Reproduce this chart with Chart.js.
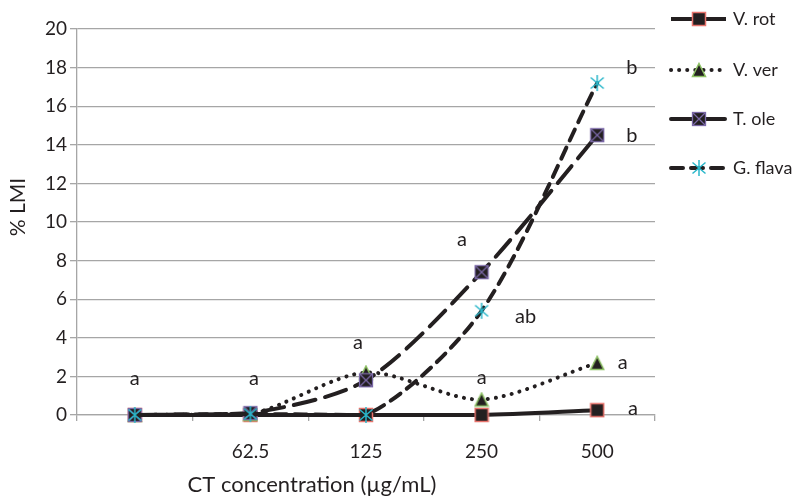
<!DOCTYPE html>
<html>
<head>
<meta charset="utf-8">
<script src="https://cdn.jsdelivr.net/npm/chart.js@4.4.1/dist/chart.umd.min.js"></script>
<style>
  html, body { margin: 0; padding: 0; background: #fff; }
</style>
</head>
<body>
<canvas id="chart" width="798" height="496"></canvas>
<script>
// values
const categories = ['', '62.5', '125', '250', '500'];
const vRot   = [0, 0,    0,   0,   0.25];
const vVer   = [0, 0.05, 2.2, 0.8, 2.7];
const tOle   = [0, 0.1,  1.8, 7.4, 14.5];
const gFlava = [0, 0.05, 0,   5.4, 17.2];
const seriesNames = ['V. rot', 'V. ver', 'T. ole', 'G. flava'];

// significance letters (category index, value)
const letterText = ['a', 'a', 'a', 'a', 'a', 'ab', 'b', 'b', 'a', 'a'];
const letterCat  = [0, 1.03, 1.93, 3, 2.83, 3.38, 4.3, 4.3, 4.22, 4.31];
const letterVal  = [1.9, 1.9, 3.75, 1.95, 9.1, 5.1, 18, 14.5, 2.7, 0.35];

const ink = '#231f20';
const font = 'Lato, "Open Sans", sans-serif';

function marker(size, draw) {
  const c = document.createElement('canvas');
  c.width = c.height = size;
  draw(c.getContext('2d'), size);
  return c;
}
const rotMark = marker(16, (g) => {
  g.fillStyle = ink; g.fillRect(1.5, 1.5, 13, 13);
  g.strokeStyle = '#e8736c'; g.lineWidth = 1.5; g.strokeRect(1.5, 1.5, 13, 13);
});
const verMark = marker(16, (g) => {
  g.beginPath(); g.moveTo(8, 1.5); g.lineTo(14.5, 14.5); g.lineTo(1.5, 14.5); g.closePath();
  g.fillStyle = ink; g.fill();
  g.strokeStyle = '#8cc063'; g.lineWidth = 1.5; g.stroke();
});
const oleMark = marker(16, (g) => {
  g.fillStyle = ink; g.fillRect(1.5, 1.5, 13, 13);
  g.strokeStyle = '#7a68a6'; g.lineWidth = 1.3; g.strokeRect(1.5, 1.5, 13, 13);
  g.beginPath(); g.moveTo(2, 2); g.lineTo(14, 14); g.moveTo(14, 2); g.lineTo(2, 14); g.stroke();
});
const flavaMark = marker(18, (g) => {
  g.strokeStyle = '#2ab7ca'; g.lineWidth = 1.5;
  g.beginPath();
  g.moveTo(9, 1); g.lineTo(9, 17);
  g.moveTo(2.5, 3.5); g.lineTo(15.5, 14.5);
  g.moveTo(15.5, 3.5); g.lineTo(2.5, 14.5);
  g.stroke();
});

const marks = [rotMark, verMark, oleMark, flavaMark];
const dashes = [[], [0.1, 8], [22, 10], [12, 8]];

function series(label, data, i) {
  return {
    label: label,
    data: data,
    borderColor: ink,
    borderWidth: 4,
    borderDash: dashes[i],
    borderCapStyle: i === 0 ? 'butt' : 'round',
    tension: 0.28,
    pointStyle: marks[i],
    pointRadius: 8,
    clip: 10,
    order: 4 - i
  };
}

const extras = {
  id: 'extras',
  afterDraw(chart) {
    const g = chart.ctx;
    const xs = chart.scales.x, ys = chart.scales.y;
    g.save();
    g.fillStyle = ink;
    g.font = '20px ' + font;
    g.textAlign = 'center';
    g.textBaseline = 'middle';
    for (let i = 0; i < letterText.length; i++) {
      g.fillText(letterText[i], xs.getPixelForValue(letterCat[i]), ys.getPixelForValue(letterVal[i]));
    }
    // axis titles
    g.font = '22px ' + font;
    g.fillText('CT concentration (\u00b5g/mL)', 312, 485);
    g.font = '21px ' + font;
    g.save();
    g.translate(18, 207);
    g.rotate(-Math.PI / 2);
    g.fillText('% LMI', 0, 0);
    g.restore();
    // legend
    g.font = '18px ' + font;
    const ly = [19, 70, 119, 168];
    for (let i = 0; i < 4; i++) {
      g.save();
      g.strokeStyle = ink;
      g.lineWidth = 4;
      g.lineCap = i === 0 ? 'butt' : 'round';
      g.setLineDash(dashes[i]);
      g.beginPath(); g.moveTo(671, ly[i]); g.lineTo(726, ly[i]); g.stroke();
      g.restore();
      const m = marks[i];
      g.drawImage(m, 699 - m.width / 2, ly[i] - m.height / 2);
      g.textAlign = 'left';
      g.fillText(seriesNames[i], 733, ly[i]);
    }
    g.restore();
  }
};

new Chart(document.getElementById('chart'), {
  type: 'line',
  data: {
    labels: categories,
    datasets: [
      series(seriesNames[0], vRot, 0),
      series(seriesNames[1], vVer, 1),
      series(seriesNames[2], tOle, 2),
      series(seriesNames[3], gFlava, 3)
    ]
  },
  options: {
    responsive: false,
    animation: false,
    layout: { padding: { left: 0, right: 143, top: 29, bottom: 0 } },
    plugins: { legend: { display: false }, tooltip: { enabled: false } },
    scales: {
      x: {
        offset: true,
        grid: { offset: true, drawOnChartArea: false, color: '#a6a6a6', tickLength: 6, lineWidth: 1.3 },
        border: { color: '#a6a6a6', width: 1.3 },
        ticks: { color: ink, font: { family: font, size: 19 }, padding: 19 },
        afterFit: (s) => { s.height = 81; }
      },
      y: {
        min: 0, max: 20,
        grid: { color: '#a6a6a6', lineWidth: 1.3, tickLength: 7 },
        border: { color: '#a6a6a6', width: 1.3 },
        ticks: { stepSize: 2, color: ink, font: { family: font, size: 19 }, padding: 3 },
        afterFit: (s) => { s.width = 77; }
      }
    }
  },
  plugins: [extras]
});
</script>
</body>
</html>
